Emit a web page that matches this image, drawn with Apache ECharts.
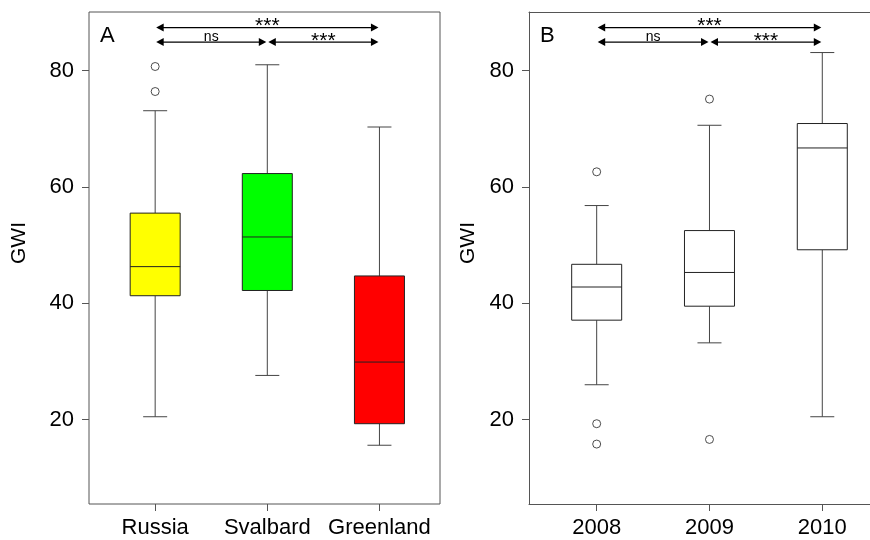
<!DOCTYPE html>
<html><head><meta charset="utf-8">
<script src="https://cdn.jsdelivr.net/npm/echarts@6/dist/echarts.min.js"></script>
<style>html,body{margin:0;padding:0;background:#fff}#c{width:870px;height:540px}</style>
</head><body><div id="c"></div>
<script>
// ---------- Data ----------
// Panel A: regions
const groupsA = ['Russia', 'Svalbard', 'Greenland'];
const lowA  = [20.5, 27.6, 15.6];
const q1A   = [41.3, 42.2, 19.3];
const medA  = [46.3, 51.4, 29.9];
const q3A   = [55.5, 62.3, 44.7];
const highA = [73.1, 81.0, 70.3];
const outliersA = [[1, 80.7], [1, 76.4]];

// Panel B: years
const groupsB = ['2008', '2009', '2010'];
const lowB  = [26.0, 33.2, 20.5];
const q1B   = [37.1, 39.5, 49.2];
const medB  = [42.8, 45.3, 66.7];
const q3B   = [46.7, 52.5, 70.9];
const highB = [56.8, 70.6, 83.1];
const outliersB = [[1, 62.6], [1, 19.3], [1, 15.8], [2, 75.1], [2, 16.6]];

const yTicks = [20, 40, 60, 80];
const catTicks = [1, 2, 3];

// Significance comparisons (same in both panels)
const compLabels = ['***', 'ns', '***'];
const compFrom   = [1, 1, 2];
const compTo     = [3, 2, 3];
const compLevel  = [87.4, 84.9, 84.9];

// ---------- Styles ----------
const FONT = 'Liberation Sans, Arial, Helvetica, sans-serif';
const AXIS = '#555';
const LINE = '#444';
const BOX_LINE = '#222';
const fillsA = ['#ffff00', '#00ff00', '#ff0000'];
const fillsB = ['#ffffff', '#ffffff', '#ffffff'];
const BOX_HALF = 25, CAP_HALF = 12;
const HEAD_LEN = 7.5, HEAD_HALF = 4;

function boxData(low, q1, med, q3, high) {
  return low.map((v, i) => [i + 1, v, q1[i], med[i], q3[i], high[i]]);
}
function compData() {
  return compLabels.map((l, i) => [compFrom[i], compTo[i], compLevel[i]]);
}

function makeBoxRender(fills) {
  return function (params, api) {
    const x = api.value(0);
    const p = [1, 2, 3, 4, 5].map(d => api.coord([x, api.value(d)]));
    const cx = p[0][0];
    const ls = { stroke: LINE, lineWidth: 1 };
    return {
      type: 'group', children: [
        { type: 'line', shape: { x1: cx, y1: p[0][1], x2: cx, y2: p[1][1] }, style: ls },
        { type: 'line', shape: { x1: cx, y1: p[3][1], x2: cx, y2: p[4][1] }, style: ls },
        { type: 'line', shape: { x1: cx - CAP_HALF, y1: p[0][1], x2: cx + CAP_HALF, y2: p[0][1] }, style: ls },
        { type: 'line', shape: { x1: cx - CAP_HALF, y1: p[4][1], x2: cx + CAP_HALF, y2: p[4][1] }, style: ls },
        { type: 'rect', shape: { x: cx - BOX_HALF, y: p[3][1], width: 2 * BOX_HALF, height: p[1][1] - p[3][1] },
          style: { fill: fills[params.dataIndex], stroke: BOX_LINE, lineWidth: 1 } },
        { type: 'line', shape: { x1: cx - BOX_HALF, y1: p[2][1], x2: cx + BOX_HALF, y2: p[2][1] },
          style: { stroke: BOX_LINE, lineWidth: 1 } }
      ]
    };
  };
}

function renderComp(params, api) {
  const i = params.dataIndex;
  const a = api.coord([api.value(0), api.value(2)]);
  const b = api.coord([api.value(1), api.value(2)]);
  const y = a[1];
  const x1 = a[0] + 1, x2 = b[0] - 1;
  const label = compLabels[i];
  const isNs = label === 'ns';
  return {
    type: 'group', children: [
      { type: 'line', shape: { x1: x1 + 2, y1: y, x2: x2 - 2, y2: y }, style: { stroke: '#000', lineWidth: 1.2 } },
      { type: 'polygon', shape: { points: [[x1, y], [x1 + HEAD_LEN, y - HEAD_HALF], [x1 + HEAD_LEN, y + HEAD_HALF]] }, style: { fill: '#000' } },
      { type: 'polygon', shape: { points: [[x2, y], [x2 - HEAD_LEN, y - HEAD_HALF], [x2 - HEAD_LEN, y + HEAD_HALF]] }, style: { fill: '#000' } },
      { type: 'text', x: (x1 + x2) / 2, y: isNs ? y - 5 : y - 1,
        style: { text: label, align: 'center', verticalAlign: 'middle', fill: '#000',
                 font: (isNs ? '14px ' : '21px ') + FONT } }
    ]
  };
}

function xAxisDef(gi, groups, min, max, showLine) {
  return {
    gridIndex: gi, type: 'value', min: min, max: max,
    splitLine: { show: false }, axisLine: { show: showLine, lineStyle: { color: AXIS, width: 1 } },
    axisTick: { show: true, length: 7, customValues: catTicks, lineStyle: { color: AXIS } },
    axisLabel: { customValues: catTicks, formatter: v => groups[Math.round(v) - 1], margin: 13,
                 fontSize: 22, color: '#000', fontFamily: FONT }
  };
}
function yAxisDef(gi, showLine) {
  return {
    gridIndex: gi, type: 'value', min: 5.5, max: 90.07,
    splitLine: { show: false }, axisLine: { show: showLine, lineStyle: { color: AXIS, width: 1 } },
    axisTick: { show: true, length: 7, customValues: yTicks, lineStyle: { color: AXIS } },
    axisLabel: { customValues: yTicks, margin: 15, fontSize: 22, color: '#000', fontFamily: FONT }
  };
}

const outlierStyle = { color: '#ffffff', borderColor: '#222', borderWidth: 1 };

const chart = echarts.init(document.getElementById('c'), null, { renderer: 'canvas' });
chart.setOption({
  backgroundColor: '#fff',
  animation: false,
  title: [
    { text: 'A', left: 100, top: 25, padding: 0, textStyle: { fontSize: 22, fontWeight: 'normal', color: '#000', fontFamily: FONT } },
    { text: 'B', left: 540, top: 25, padding: 0, textStyle: { fontSize: 22, fontWeight: 'normal', color: '#000', fontFamily: FONT } }
  ],
  grid: [
    { left: 89, top: 12, width: 351, height: 492, show: true, borderColor: AXIS, borderWidth: 1, backgroundColor: 'transparent' },
    { left: 529, top: 12, right: 0, height: 492, show: false }
  ],
  xAxis: [
    xAxisDef(0, groupsA, 0.41, 3.54, false),
    xAxisDef(1, groupsB, 0.40, 3.423, true),
    { gridIndex: 1, type: 'value', position: 'top', min: 0.40, max: 3.423,
      splitLine: { show: false }, axisTick: { show: false }, axisLabel: { show: false },
      axisLine: { show: true, lineStyle: { color: AXIS, width: 1 } } }
  ],
  yAxis: [yAxisDef(0, false), yAxisDef(1, true)],
  graphic: [
    { type: 'text', x: 19.5, y: 243, rotation: Math.PI / 2,
      style: { text: 'GWI', align: 'center', verticalAlign: 'middle', fill: '#000', font: '21px ' + FONT } },
    { type: 'text', x: 468.5, y: 243, rotation: Math.PI / 2,
      style: { text: 'GWI', align: 'center', verticalAlign: 'middle', fill: '#000', font: '21px ' + FONT } }
  ],
  series: [
    { type: 'custom', xAxisIndex: 0, yAxisIndex: 0, renderItem: makeBoxRender(fillsA),
      encode: { x: 0, y: [1, 2, 3, 4, 5] }, data: boxData(lowA, q1A, medA, q3A, highA) },
    { type: 'custom', xAxisIndex: 1, yAxisIndex: 1, renderItem: makeBoxRender(fillsB),
      encode: { x: 0, y: [1, 2, 3, 4, 5] }, data: boxData(lowB, q1B, medB, q3B, highB) },
    { type: 'scatter', xAxisIndex: 0, yAxisIndex: 0, symbol: 'circle', symbolSize: 8,
      itemStyle: outlierStyle, data: outliersA },
    { type: 'scatter', xAxisIndex: 1, yAxisIndex: 1, symbol: 'circle', symbolSize: 8,
      itemStyle: outlierStyle, data: outliersB },
    { type: 'custom', xAxisIndex: 0, yAxisIndex: 0, renderItem: renderComp, clip: false,
      encode: { x: [0, 1], y: 2 }, data: compData() },
    { type: 'custom', xAxisIndex: 1, yAxisIndex: 1, renderItem: renderComp, clip: false,
      encode: { x: [0, 1], y: 2 }, data: compData() }
  ]
});
</script>
</body></html>
